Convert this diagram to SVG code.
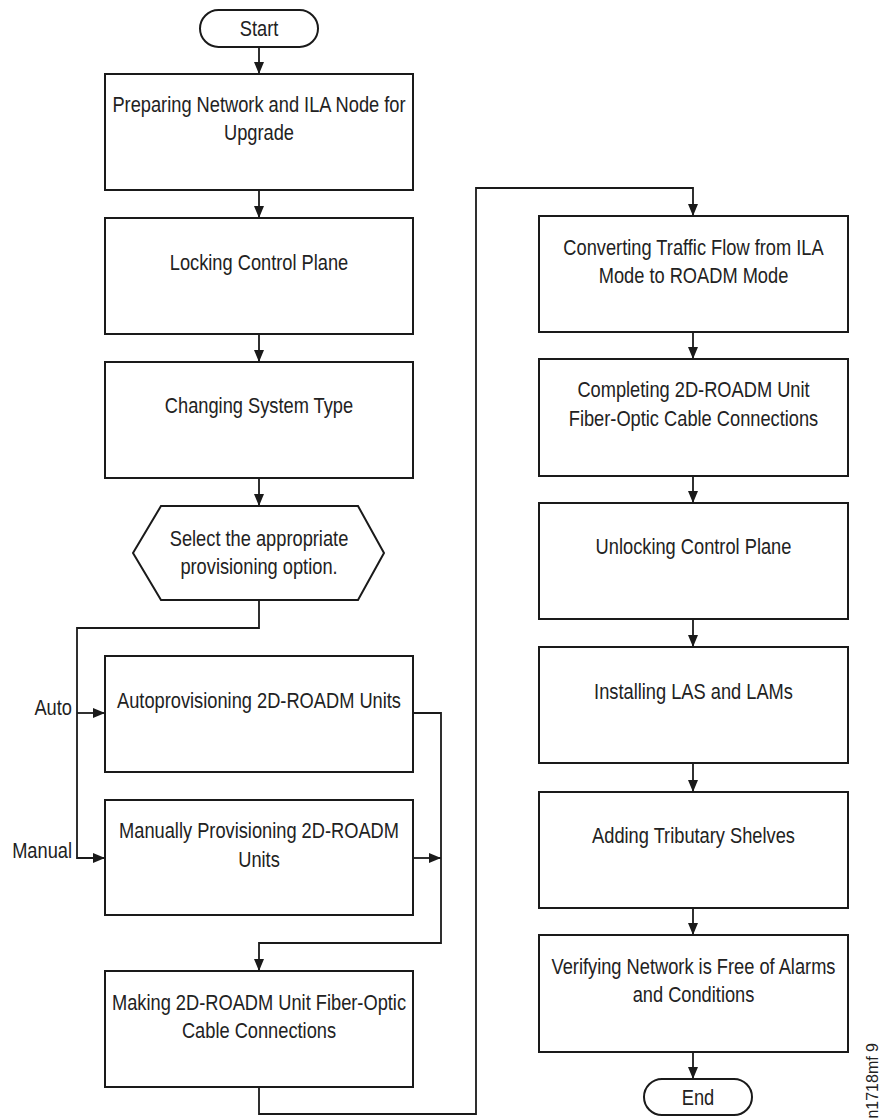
<svg xmlns="http://www.w3.org/2000/svg" width="882" height="1118" viewBox="0 0 882 1118">
  <style>
    .box { fill: #ffffff; stroke: #1a1a1a; stroke-width: 2; }
    .wire { fill: none; stroke: #1a1a1a; stroke-width: 1.8; }
    .lbl { font-family: "Liberation Sans", Arial, sans-serif; font-size: 22px; fill: #222222; text-anchor: middle; }
    .side { font-family: "Liberation Sans", Arial, sans-serif; font-size: 22px; fill: #222222; text-anchor: end; }
    .tag { font-family: "Liberation Sans", Arial, sans-serif; font-size: 16px; fill: #222222; text-anchor: end; }
  </style>
  <defs>
    <marker id="arrow" viewBox="0 0 12 10" refX="12" refY="5" markerWidth="12" markerHeight="10" markerUnits="userSpaceOnUse" orient="auto">
      <path d="M0,0 L12,5 L0,10 Z" fill="#1a1a1a"/>
    </marker>
  </defs>
  <rect width="882" height="1118" fill="#ffffff"/>

  <!-- connectors -->
  <g id="connectors">
    <line class="wire" x1="259" y1="47" x2="259" y2="74" marker-end="url(#arrow)"/>
    <line class="wire" x1="259" y1="190" x2="259" y2="218" marker-end="url(#arrow)"/>
    <line class="wire" x1="259" y1="334" x2="259" y2="362" marker-end="url(#arrow)"/>
    <line class="wire" x1="259" y1="478" x2="259" y2="506" marker-end="url(#arrow)"/>
    <polyline class="wire" points="259,600 259,628 77,628 77,858 105,858" marker-end="url(#arrow)"/>
    <line class="wire" x1="77" y1="713" x2="105" y2="713" marker-end="url(#arrow)"/>
    <polyline class="wire" points="413,713 441,713 441,943 259,943 259,971" marker-end="url(#arrow)"/>
    <line class="wire" x1="413" y1="858" x2="441" y2="858" marker-end="url(#arrow)"/>
    <polyline class="wire" points="259,1087 259,1114 476,1114 476,188 693,188 693,216" marker-end="url(#arrow)"/>
    <line class="wire" x1="693" y1="332" x2="693" y2="359" marker-end="url(#arrow)"/>
    <line class="wire" x1="693" y1="476" x2="693" y2="503" marker-end="url(#arrow)"/>
    <line class="wire" x1="693" y1="619" x2="693" y2="647" marker-end="url(#arrow)"/>
    <line class="wire" x1="693" y1="763" x2="693" y2="792" marker-end="url(#arrow)"/>
    <line class="wire" x1="693" y1="908" x2="693" y2="935" marker-end="url(#arrow)"/>
    <line class="wire" x1="693" y1="1052" x2="693" y2="1079" marker-end="url(#arrow)"/>
    <!-- branch labels, condensed horizontally about their right edge -->
    <g transform="translate(72,0) scale(0.83,1) translate(-72,0)">
      <text class="side" x="72" y="715">Auto</text>
      <text class="side" x="72" y="858">Manual</text>
    </g>
  </g>

  <!-- left column: labels are condensed about the column centre x=259 -->
  <g id="start">
    <rect class="box" x="200" y="10" width="118" height="37" rx="18.5"/>
    <text class="lbl" transform="matrix(0.83 0 0 1 259 0)" x="0" y="36">Start</text>
  </g>
  <g id="prepare">
    <rect class="box" x="105" y="74" width="308" height="116"/>
    <g transform="matrix(0.83 0 0 1 259 0)">
      <text class="lbl" x="0" y="112">Preparing Network and ILA Node for</text>
      <text class="lbl" x="0" y="140">Upgrade</text>
    </g>
  </g>
  <g id="lock">
    <rect class="box" x="105" y="218" width="308" height="116"/>
    <text class="lbl" transform="matrix(0.83 0 0 1 259 0)" x="0" y="270">Locking Control Plane</text>
  </g>
  <g id="systype">
    <rect class="box" x="105" y="362" width="308" height="116"/>
    <text class="lbl" transform="matrix(0.83 0 0 1 259 0)" x="0" y="413">Changing System Type</text>
  </g>
  <g id="select">
    <polygon class="box" points="161,506 358,506 384,553 358,600 161,600 133,553"/>
    <g transform="matrix(0.83 0 0 1 259 0)">
      <text class="lbl" x="0" y="546">Select the appropriate</text>
      <text class="lbl" x="0" y="574">provisioning option.</text>
    </g>
  </g>
  <g id="auto">
    <rect class="box" x="105" y="656" width="308" height="116"/>
    <text class="lbl" transform="matrix(0.83 0 0 1 259 0)" x="0" y="708">Autoprovisioning 2D-ROADM Units</text>
  </g>
  <g id="manual">
    <rect class="box" x="105" y="800" width="308" height="115"/>
    <g transform="matrix(0.83 0 0 1 259 0)">
      <text class="lbl" x="0" y="838">Manually Provisioning 2D-ROADM</text>
      <text class="lbl" x="0" y="867">Units</text>
    </g>
  </g>
  <g id="making">
    <rect class="box" x="105" y="971" width="308" height="116"/>
    <g transform="matrix(0.83 0 0 1 259 0)">
      <text class="lbl" x="0" y="1010">Making 2D-ROADM Unit Fiber-Optic</text>
      <text class="lbl" x="0" y="1038">Cable Connections</text>
    </g>
  </g>

  <!-- right column: labels condensed about x=693.5 -->
  <g id="convert">
    <rect class="box" x="539" y="216" width="309" height="116"/>
    <g transform="matrix(0.83 0 0 1 693.5 0)">
      <text class="lbl" x="0" y="255">Converting Traffic Flow from ILA</text>
      <text class="lbl" x="0" y="283">Mode to ROADM Mode</text>
    </g>
  </g>
  <g id="complete">
    <rect class="box" x="539" y="359" width="309" height="117"/>
    <g transform="matrix(0.83 0 0 1 693.5 0)">
      <text class="lbl" x="0" y="397">Completing 2D-ROADM Unit</text>
      <text class="lbl" x="0" y="426">Fiber-Optic Cable Connections</text>
    </g>
  </g>
  <g id="unlock">
    <rect class="box" x="539" y="503" width="309" height="116"/>
    <text class="lbl" transform="matrix(0.83 0 0 1 693.5 0)" x="0" y="554">Unlocking Control Plane</text>
  </g>
  <g id="install">
    <rect class="box" x="539" y="647" width="309" height="116"/>
    <text class="lbl" transform="matrix(0.83 0 0 1 693.5 0)" x="0" y="699">Installing LAS and LAMs</text>
  </g>
  <g id="tributary">
    <rect class="box" x="539" y="792" width="309" height="116"/>
    <text class="lbl" transform="matrix(0.83 0 0 1 693.5 0)" x="0" y="843">Adding Tributary Shelves</text>
  </g>
  <g id="verify">
    <rect class="box" x="539" y="935" width="309" height="117"/>
    <g transform="matrix(0.83 0 0 1 693.5 0)">
      <text class="lbl" x="0" y="974">Verifying Network is Free of Alarms</text>
      <text class="lbl" x="0" y="1002">and Conditions</text>
    </g>
  </g>
  <g id="end">
    <rect class="box" x="644" y="1079" width="108" height="36" rx="18"/>
    <text class="lbl" transform="matrix(0.83 0 0 1 698 0)" x="0" y="1105">End</text>
  </g>

  <text class="tag" transform="translate(878,1043) rotate(-90)" x="0" y="0">n1718mf 9</text>
</svg>
